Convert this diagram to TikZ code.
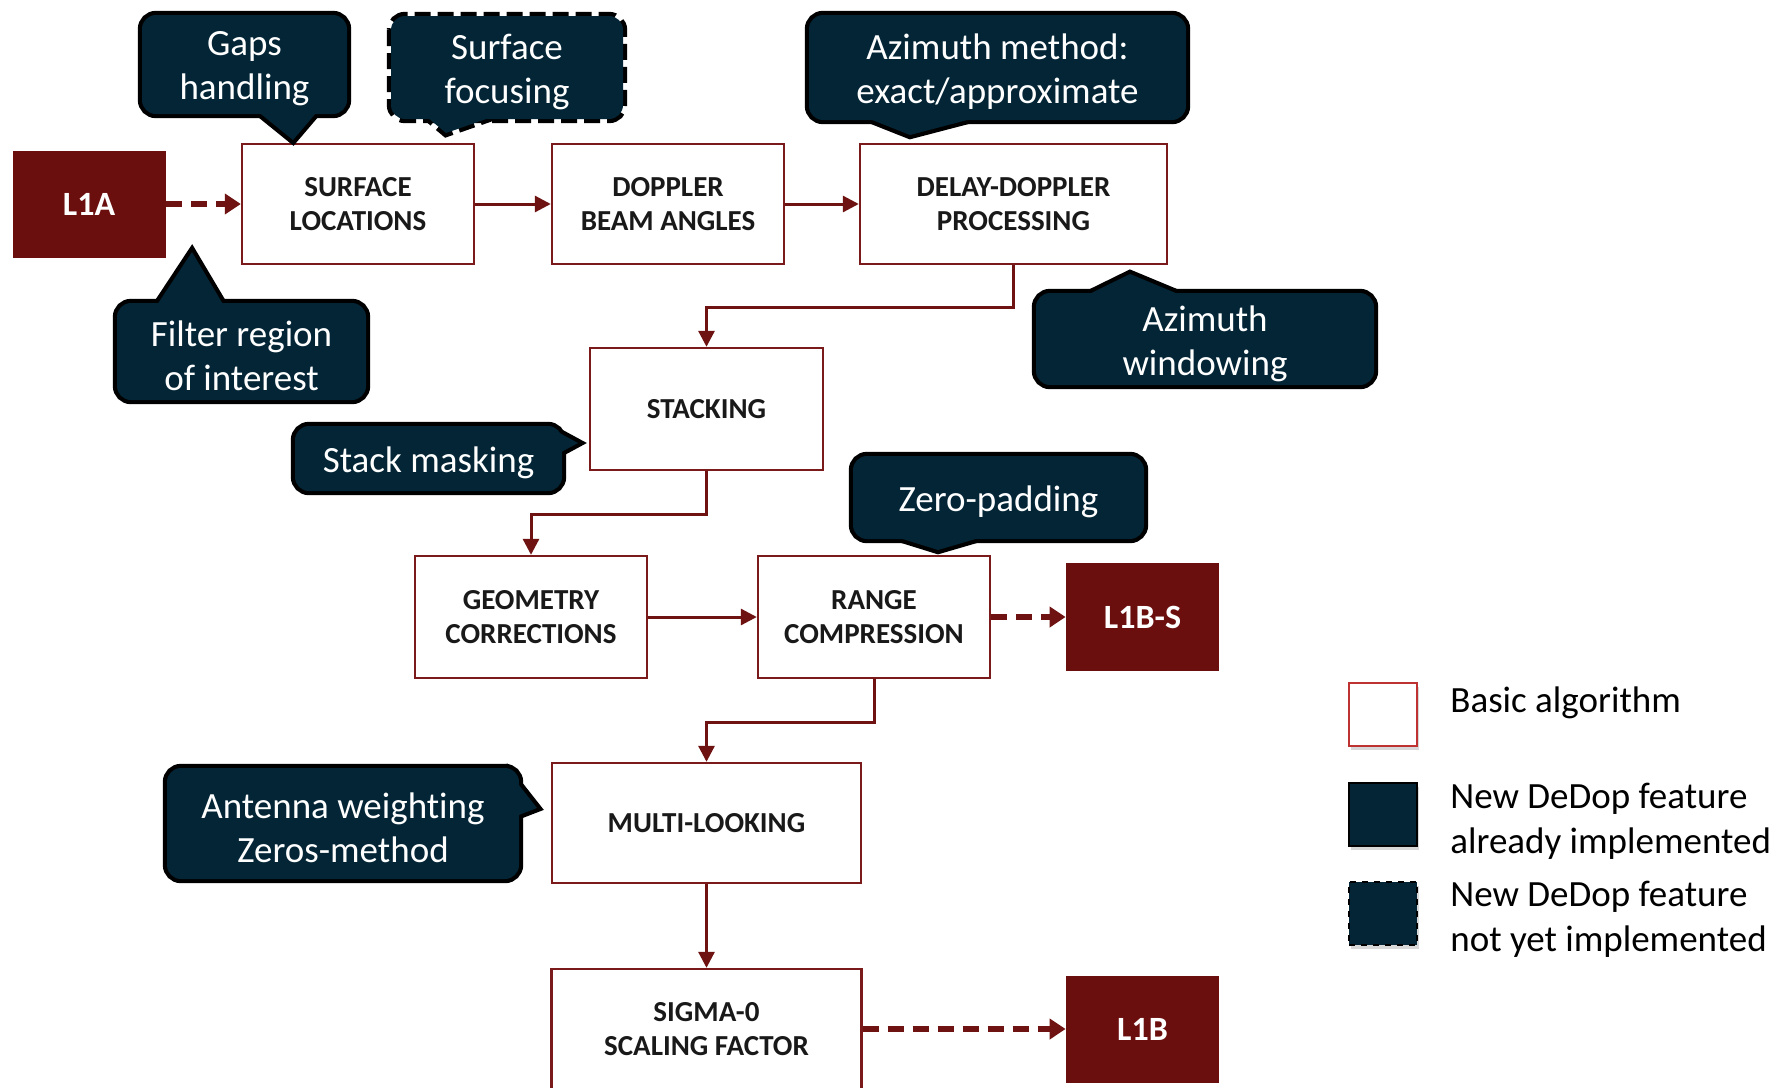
\documentclass[tikz,border=0pt]{standalone}
\usepackage{fontspec}
\setmainfont{Carlito}[Ligatures=NoCommon]
\usetikzlibrary{arrows.meta,shadows,calc}
\definecolor{navy}{RGB}{3,37,54}
\definecolor{dred}{RGB}{107,14,14}
\definecolor{bord}{RGB}{122,26,26}
\definecolor{lnk}{RGB}{110,18,18}
\definecolor{legred}{RGB}{190,50,50}
\tikzset{
  proc/.style={draw=bord, line width=1.2pt, fill=white, minimum height=60pt, inner sep=0pt,
    align=center, font=\fontsize{14.5}{17}\selectfont\bfseries, text=black!90},
  lvl/.style={fill=dred, minimum width=76.5pt, minimum height=53.5pt, inner sep=0pt,
    text=white, font=\fontsize{17}{20}\selectfont\bfseries},
  arr/.style={draw=lnk, line width=1.5pt, -{Triangle[length=8pt,width=8pt]}},
  dasharr/.style={draw=lnk, line width=3pt, dash pattern=on 8pt off 4.5pt,
    -{Triangle[length=8pt,width=10pt]}},
  cline/.style={draw=black, line width=4.2pt},
  cdash/.style={dash pattern=on 8pt off 3.5pt},
  ctext/.style={text=white, align=center, font=\fontsize{18.5}{22}\selectfont, inner sep=0pt},
  legtext/.style={anchor=west, align=left, font=\fontsize{18.5}{22.5}\selectfont, inner sep=0pt},
  legbox/.style={minimum width=34pt, minimum height=31.5pt, inner sep=0pt,
    drop shadow={shadow xshift=1pt, shadow yshift=-2pt, opacity=0.3}},
}
\newcommand\mycallout[6]{%
  \draw[cline,#2,rounded corners=7pt] (#3) rectangle (#4);
  \draw[cline,#2] #5 -- cycle;
  \fill[navy,rounded corners=7pt] (#3) rectangle (#4);
  \fill[navy] #5 -- cycle;
  \node[ctext] (#1) at ($(#3)!0.5!(#4)+(0,4.5)$) {#6};
}
\begin{document}
\begin{tikzpicture}[x=0.5pt,y=-0.5pt]
\useasboundingbox (0,0) rectangle (1777,1087);
\fill[white] (0,0) rectangle (1777,1087);

% process boxes
\node[lvl] (l1a) at (89,204) {L1A};
\node[proc, minimum width=116pt] (surf) at (358,204) {SURFACE\\LOCATIONS};
\node[proc, minimum width=116pt] (dop) at (668,204) {DOPPLER\\BEAM ANGLES};
\node[proc, minimum width=153.5pt] (ddp) at (1013.5,204) {DELAY-DOPPLER\\PROCESSING};
\node[proc, minimum width=116.5pt, minimum height=61pt] (stack) at (706.5,409) {STACKING};
\node[proc, minimum width=116pt, minimum height=61pt] (geo) at (531,617) {GEOMETRY\\CORRECTIONS};
\node[proc, minimum width=116pt, minimum height=61pt] (range) at (874,617) {RANGE\\COMPRESSION};
\node[lvl, minimum height=54pt] (l1bs) at (1142.5,617) {L1B-S};
\node[proc, minimum width=154.5pt] (multi) at (706.5,823) {MULTI-LOOKING};
\node[proc, minimum width=155pt] (sigma) at (706.5,1029) {SIGMA-0\\SCALING FACTOR};
\node[lvl] (l1b) at (1142.5,1029) {L1B};

% connectors
\draw[dasharr] (l1a) -- (surf);
\draw[arr] (surf) -- (dop);
\draw[arr] (dop) -- (ddp);
\draw[arr] (ddp.south) -- ++(0,42) -| (stack.north);
\draw[arr] (stack.south) -- ++(0,43) -| (geo.north);
\draw[arr] (geo) -- (range);
\draw[dasharr] (range) -- (l1bs);
\draw[arr] (range.south) -- ++(0,43) -| (multi.north);
\draw[arr] (multi) -- (sigma);
\draw[dasharr] (sigma) -- (l1b);

% callouts
\mycallout{gaps}{}{142,15}{347,114}{(251,106) -- (293,140) -- (322,106)}{Gaps\\handling}
\mycallout{focus}{cdash}{391,16}{623,119}{(421,112) -- (446,133) -- (509,111)}{Surface\\focusing}
\mycallout{azm}{}{809,15}{1186,120}{(852,112) -- (910,135) -- (998,112)}{Azimuth method:\\exact/approximate}
\mycallout{filter}{}{117,303}{366,400}{(153,311) -- (192,252) -- (227,311)}{Filter region\\of interest}
\mycallout{azw}{}{1036,293}{1374,385}{(1075,301) -- (1130,274) -- (1195,301)}{Azimuth\\windowing}
\mycallout{smask}{}{295,426}{562,491}{(554,430) -- (578,443) -- (554,456)}{Stack masking}
\mycallout{zpad}{}{853,456}{1144,539}{(877,531) -- (938,550) -- (1003,531)}{Zero-padding}
\mycallout{antw}{}{167,768}{519,879}{(511,775) -- (537,808) -- (511,818)}{Antenna weighting\\Zeros-method}

% legend
\node[legbox, draw=legred, line width=1pt, fill=white] (lg1) at (1383,714.5) {};
\node[legbox, draw=black, line width=1pt, fill=navy] (lg2) at (1383,814) {};
\node[legbox, draw=black, line width=1pt, dashed, fill=navy] (lg3) at (1383,913) {};
\node[legtext] (lt1) at (1450,702.5) {Basic algorithm};
\node[legtext] (lt2) at (1450,821) {New DeDop feature\\already implemented};
\node[legtext] (lt3) at (1450,919) {New DeDop feature\\not yet implemented};
\end{tikzpicture}
\end{document}
